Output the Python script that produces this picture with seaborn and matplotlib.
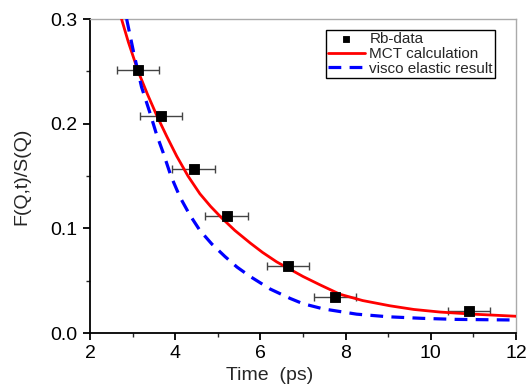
import matplotlib
matplotlib.use("Agg")
import matplotlib.pyplot as plt
import seaborn as sns
import pandas as pd
from matplotlib.ticker import MultipleLocator

# Rb data points (time in ps, F(Q,t)/S(Q))
rb_time = [3.13, 3.67, 4.43, 5.21, 6.65, 7.75, 10.90]
rb_value = [0.251, 0.207, 0.157, 0.112, 0.064, 0.034, 0.021]
rb_xerr = [0.5, 0.5, 0.5, 0.5, 0.5, 0.5, 0.5]

# MCT calculation
mct_time = [2.74, 2.90, 3.13, 3.35, 3.565, 3.80, 4.035, 4.30, 4.58, 4.83, 5.09, 5.40,
            5.76, 6.05, 6.38, 6.69, 7.00, 7.40, 7.87, 8.40, 9.04, 9.60, 10.22, 11.0, 12.0]
mct_value = [0.300, 0.278, 0.250, 0.228, 0.208, 0.188, 0.169, 0.150, 0.133, 0.121, 0.110,
             0.098, 0.086, 0.077, 0.068, 0.061, 0.054, 0.046, 0.037, 0.031, 0.026, 0.0225,
             0.020, 0.018, 0.016]

# visco elastic result
ve_time = [2.86, 3.03, 3.21, 3.41, 3.56, 3.72, 3.90, 4.11, 4.34, 4.58, 4.86, 5.17, 5.45,
           5.76, 6.23, 6.70, 7.00, 7.48, 8.26, 9.00, 9.80, 10.6, 11.3, 12.0]
ve_value = [0.300, 0.267, 0.235, 0.210, 0.190, 0.172, 0.150, 0.130, 0.113, 0.098, 0.085,
            0.073, 0.063, 0.054, 0.042, 0.033, 0.028, 0.023, 0.018, 0.0155, 0.014, 0.013,
            0.0127, 0.0124]

sns.set_style("ticks")
plt.rcParams['font.family'] = ['Liberation Sans', 'DejaVu Sans']

fig = plt.figure(figsize=(5.26, 3.88), dpi=100)
ax = fig.add_axes([90 / 526, 55 / 388, 426 / 526, 314 / 388])

mct_df = pd.DataFrame({"t": mct_time, "v": mct_value})
ve_df = pd.DataFrame({"t": ve_time, "v": ve_value})
rb_df = pd.DataFrame({"t": rb_time, "v": rb_value})

ax.errorbar(rb_time, rb_value, xerr=rb_xerr, fmt='none', ecolor='#444444',
            elinewidth=1.0, capsize=3, capthick=1.0, zorder=2)
sns.lineplot(data=mct_df, x="t", y="v", ax=ax, color='red', linewidth=2,
             label='MCT calculation', zorder=3)
sns.lineplot(data=ve_df, x="t", y="v", ax=ax, color='blue', linewidth=2.3,
             linestyle=(0, (4, 2.6)), label='visco elastic result', zorder=3)
sns.scatterplot(data=rb_df, x="t", y="v", ax=ax, marker='s', s=60, color='black',
                edgecolor='black', label='Rb-data', zorder=4)

ax.set_xlim(2, 12)
ax.set_ylim(0, 0.3)
ax.xaxis.set_major_locator(MultipleLocator(2))
ax.xaxis.set_minor_locator(MultipleLocator(1))
ax.yaxis.set_major_locator(MultipleLocator(0.1))
ax.yaxis.set_minor_locator(MultipleLocator(0.05))
ax.tick_params(which='major', direction='out', length=5, width=1.3, labelsize=14,
               colors='black', pad=4)
ax.tick_params(which='minor', direction='out', length=3, width=1.0)
ax.set_xticks([2, 4, 6, 8, 10, 12])
ax.set_yticks([0.0, 0.1, 0.2, 0.3])
ax.set_yticklabels(['0.0', '0.1', '0.2', '0.3'])

for side in ['left', 'bottom']:
    ax.spines[side].set_color('black')
    ax.spines[side].set_linewidth(1.3)
for side in ['top', 'right']:
    ax.spines[side].set_visible(True)
    ax.spines[side].set_color('#aaaaaa')
    ax.spines[side].set_linewidth(1.0)

ax.set_xlabel('Time  (ps)', fontsize=14)
ax.set_ylabel('F(Q,t)/S(Q)', fontsize=14)
ax.xaxis.set_label_coords(0.4225, -0.108)
ax.yaxis.set_label_coords(-0.141, 0.5)

handles, labels = ax.get_legend_handles_labels()
order = [labels.index('Rb-data'), labels.index('MCT calculation'), labels.index('visco elastic result')]
leg = ax.legend([handles[i] for i in order], [labels[i] for i in order],
                loc='upper right', bbox_to_anchor=(0.951, 0.965), fontsize=11,
                frameon=True, fancybox=False, framealpha=1, edgecolor='black',
                borderpad=0.15, labelspacing=0.05, handlelength=2.4, handletextpad=0.3,
                markerscale=0.55, borderaxespad=0)
leg.get_frame().set_linewidth(1.0)

fig.savefig('out.png', dpi=100)
